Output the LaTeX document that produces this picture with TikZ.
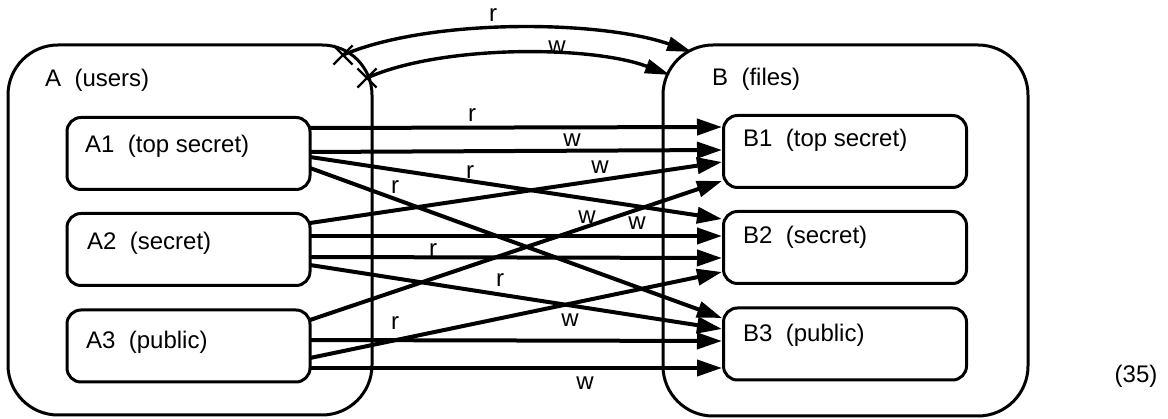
\documentclass[tikz,border=0pt]{standalone}
\usepackage{fontspec}
\setmainfont{Liberation Sans}
\usetikzlibrary{arrows.meta,shapes.misc}
\begin{document}
\begin{tikzpicture}[x=1pt,y=-1pt,
  outerbox/.style={draw,line width=3pt,rounded corners=50pt,minimum width=364pt,minimum height=370pt,inner sep=0pt},
  innerbox/.style={draw,line width=3pt,rounded corners=14pt,minimum width=243pt,minimum height=72pt,inner sep=0pt},
  txt/.style={font=\fontsize{24}{28}\selectfont,inner sep=0pt},
  lab/.style={font=\fontsize{24}{28}\selectfont,inner sep=0pt},
  flow/.style={line width=4pt,-{Triangle[length=25pt,width=16pt]}},
  topflow/.style={line width=3.4pt,-{Triangle[length=25pt,width=14pt]}},
  xmark/.style={cross out,draw,line width=2.2pt,minimum size=17pt,inner sep=0pt}
]
\useasboundingbox (0,0) rectangle (1168,419);
% outer boxes
\node[outerbox] (A) at (190,230) {};
\node[outerbox,minimum width=365pt,minimum height=371pt] (B) at (845.5,230.5) {};
\node[txt,anchor=west] (Al) at (45,80) {A~~(users)};
\node[txt,anchor=west] (Bl) at (712,79) {B~~(files)};
% inner boxes
\node[innerbox] (A1) at (188.5,153.5) {};
\node[innerbox] (A2) at (188.5,249.5) {};
\node[innerbox] (A3) at (188.5,346) {};
\node[innerbox] (B1) at (845,151.5) {};
\node[innerbox] (B2) at (845,247.5) {};
\node[innerbox] (B3) at (845,344) {};
\node[txt,anchor=west] (A1l) at (85,146) {A1~~(top secret)};
\node[txt,anchor=west] (A2l) at (87,243) {A2~~(secret)};
\node[txt,anchor=west] (A3l) at (86,342) {A3~~(public)};
\node[txt,anchor=west] (B1l) at (743,140) {B1~~(top secret)};
\node[txt,anchor=west] (B2l) at (743,237) {B2~~(secret)};
\node[txt,anchor=west] (B3l) at (743,335) {B3~~(public)};
\node[txt] (num) at (1136,376) {(35)};
% connectors
\foreach \n/\sy/\ey in {1/128/127, 2/152/150, 3/157/219, 4/168/318,
                        5/223/162, 6/236/236, 7/257/258, 8/265/329,
                        9/320/181, 10/340/341, 11/358/272, 12/368/368}{
  \coordinate (s\n) at (310,\sy);
  \coordinate (e\n) at (722,\ey);
  \draw[flow] (s\n) -- (e\n);
}
% labels
\foreach \n/\t/\x/\y in {1/r/472/115, 2/w/572/140, 3/w/600/167, 4/r/470/172,
                         5/r/395/187, 6/w/587/217, 7/w/637/223, 8/r/433/250,
                         9/r/500/280, 10/r/395/323, 11/w/570/320, 12/w/585/383,
                         13/r/493/15, 14/w/557/47}{
  \node[lab] (l\n) at (\x,\y) {\t};
}
% forbidden flows
\node[xmark] (X1) at (343,55) {};
\node[xmark] (X2) at (367,78) {};
\coordinate (T1) at (692,52);
\coordinate (T2) at (670,75);
\draw[topflow] (X1.center) .. controls (430,18) and (600,20) .. (T1);
\draw[topflow] (X2.center) .. controls (440,45) and (590,45) .. (T2);
\end{tikzpicture}
\end{document}
